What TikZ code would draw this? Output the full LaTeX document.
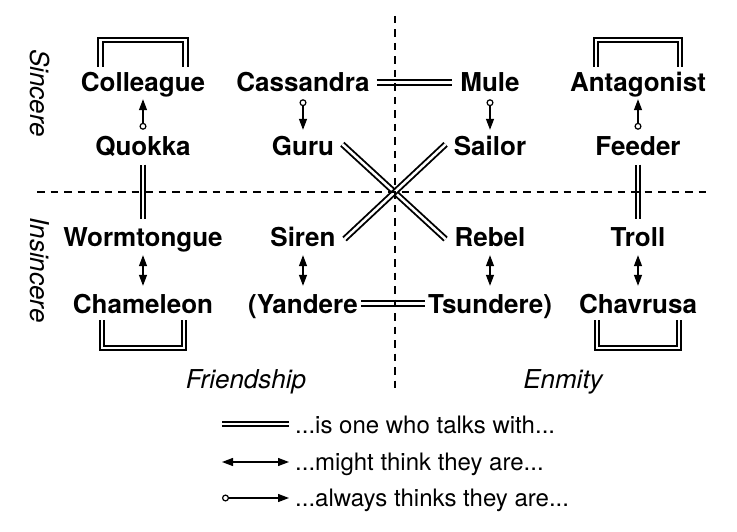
\documentclass[tikz,border=0pt]{standalone}
\usepackage{fontspec}
\setmainfont{TeX Gyre Heros}
\usetikzlibrary{arrows.meta}
\begin{document}
\begin{tikzpicture}[x=1pt,y=-1pt,
  term/.style={font=\fontsize{26pt}{30pt}\selectfont\bfseries, inner sep=0pt, text height=19pt, text depth=0pt, anchor=base},
  axislabel/.style={font=\fontsize{26pt}{30pt}\selectfont\itshape, inner sep=0pt},
  legtext/.style={font=\fontsize{24pt}{28pt}\selectfont, inner sep=0pt, anchor=base west},
  talk/.style={draw=black, double=white, double distance=2.5pt, line width=1.9pt},
  guide/.style={line width=1.1pt, dash pattern=on 7.5pt off 6pt},
  tip/.style={},
  might/.style={line width=1.3pt, {Triangle[length=11pt,width=8pt]}-{Triangle[length=11pt,width=8pt]}},
  always/.style={line width=1.3pt, {Circle[open,length=7pt,width=7pt,line width=1.2pt]}-{Triangle[length=11pt,width=8pt]}},
]
\useasboundingbox (0,0) rectangle (737,532);

% terms
\node[term] (colleague)  at (143,92)  {Colleague};
\node[term] (cassandra)  at (303,92)  {Cassandra};
\node[term] (mule)       at (490,92)  {Mule};
\node[term] (antagonist) at (638,92)  {Antagonist};
\node[term] (quokka)     at (143,156) {Quokka};
\node[term] (guru)       at (303,156) {Guru};
\node[term] (sailor)     at (490,156) {Sailor};
\node[term] (feeder)     at (638,156) {Feeder};
\node[term] (wormtongue) at (143,247) {Wormtongue};
\node[term] (siren)      at (303,247) {Siren};
\node[term] (rebel)      at (490,247) {Rebel};
\node[term] (troll)      at (638,247) {Troll};
\node[term] (chameleon)  at (143,313) {Chameleon};
\node[term] (yandere)    at (303,313) {(Yandere};
\node[term] (tsundere)   at (490,313) {Tsundere)};
\node[term] (chavrusa)   at (638,313) {Chavrusa};

% talks with
\draw[talk, shorten <=7pt, shorten >=8pt] (cassandra) -- (mule);
\draw[talk, shorten <=3pt, shorten >=3pt] (yandere) -- (tsundere);
\draw[talk, shorten <=8.5pt, shorten >=8.5pt] (quokka) -- (wormtongue);
\draw[talk, shorten <=8.5pt, shorten >=8.5pt] (feeder) -- (troll);
\draw[talk, shorten <=11pt, shorten >=12pt] (guru.north east) -- (rebel.south west);
\draw[talk, shorten <=11pt, shorten >=12pt] (sailor.north west) -- (siren.south east);
\draw[talk] ([shift={(-42.5,-6)}]colleague.north) -- ++(0,-27) -| ([shift={(42.5,-6)}]colleague.north);
\draw[talk] ([shift={(-42,-6)}]antagonist.north) -- ++(0,-27) -| ([shift={(42,-6)}]antagonist.north);
\draw[talk] ([shift={(-41,7)}]chameleon.south) -- ++(0,28) -| ([shift={(41,7)}]chameleon.south);
\draw[talk] ([shift={(-41,7)}]chavrusa.south) -- ++(0,28) -| ([shift={(41,7)}]chavrusa.south);

% always thinks
\draw[always, shorten <=7pt, shorten >=7pt] (quokka) -- (colleague);
\draw[always, shorten <=7pt, shorten >=7pt] (cassandra) -- (guru);
\draw[always, shorten <=7pt, shorten >=7pt] (mule) -- (sailor);
\draw[always, shorten <=7pt, shorten >=7pt] (feeder) -- (antagonist);

% might think
\draw[might, shorten <=8pt, shorten >=8pt] (wormtongue) -- (chameleon);
\draw[might, shorten <=8pt, shorten >=8pt] (siren) -- (yandere);
\draw[might, shorten <=8pt, shorten >=8pt] (rebel) -- (tsundere);
\draw[might, shorten <=8pt, shorten >=8pt] (troll) -- (chavrusa);

% guides
\coordinate (vtop) at (395,16);
\coordinate (vbot) at (395,392);
\coordinate (hleft) at (37,192);
\coordinate (hright) at (706,192);
\draw[guide] (vtop) -- (vbot);
\draw[guide] (hleft) -- (hright);

% axis labels
\node[axislabel, rotate=-90] (sincere)   at (40,93)  {Sincere};
\node[axislabel, rotate=-90] (insincere) at (40,270) {Insincere};
\node[axislabel, anchor=base] (friendship) at (246,388) {Friendship};
\node[axislabel, anchor=base] (enmity)     at (563,388) {Enmity};

% legend
\coordinate (la1) at (222,424); \coordinate (lb1) at (289,424);
\coordinate (la2) at (222,462); \coordinate (lb2) at (289,462);
\coordinate (la3) at (222,498); \coordinate (lb3) at (289,498);
\draw[talk] (la1) -- (lb1);
\draw[might] (la2) -- (lb2);
\draw[always] (la3) -- (lb3);
\node[legtext] (leg1) at (295,433) {...is one who talks with...};
\node[legtext] (leg2) at (295,470.5) {...might think they are...};
\node[legtext] (leg3) at (295,506.5) {...always thinks they are...};
\end{tikzpicture}
\end{document}
